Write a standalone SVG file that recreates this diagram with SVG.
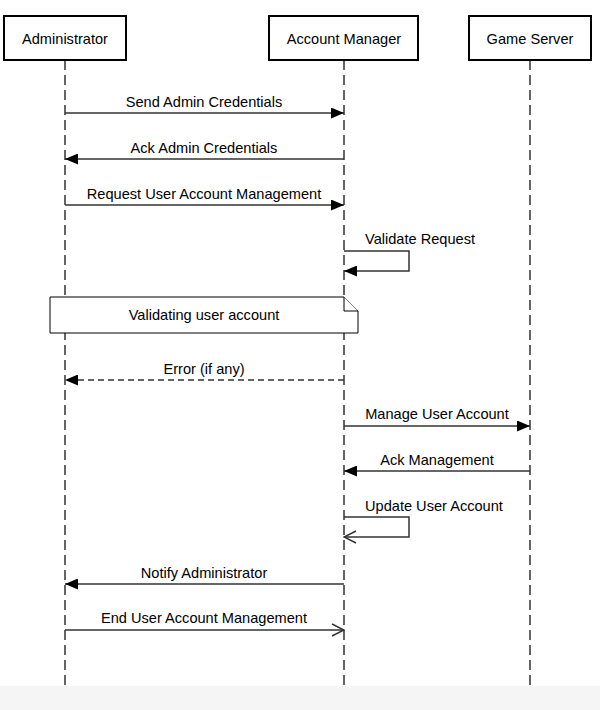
<svg xmlns="http://www.w3.org/2000/svg" width="600" height="710" viewBox="0 0 600 710">
<defs>
<style>
text{font-family:"Liberation Sans",Arial,sans-serif;font-size:14.6px;fill:#000}
.actor{fill:#fff;stroke:#000;stroke-width:2}
.life{stroke:#333;stroke-width:1.5;stroke-dasharray:10,5;fill:none}
.msg{stroke:#333;stroke-width:1.5;fill:none}
.dash{stroke-dasharray:6,4}
.note{fill:#fff;stroke:#000;stroke-width:1}
.mid{text-anchor:middle}
</style>
<marker id="filled" viewBox="0 0 13 11" refX="13" refY="5.5" markerWidth="13" markerHeight="11" markerUnits="userSpaceOnUse" orient="auto">
<path d="M0,0 L13,5.5 L0,11 Z" fill="#000"/>
</marker>
<marker id="open" viewBox="0 0 14 14" refX="13" refY="7" markerWidth="14" markerHeight="14" markerUnits="userSpaceOnUse" orient="auto">
<path d="M1,1 L13,7 L1,13" fill="none" stroke="#333" stroke-width="1.5"/>
</marker>
</defs>
<rect x="0" y="0" width="600" height="686" fill="#fff"/>
<rect x="0" y="686" width="600" height="24" fill="#f5f5f5"/>
<g id="lifelines">
<line class="life" x1="65" y1="60" x2="65" y2="686"/>
<line class="life" x1="344" y1="60" x2="344" y2="686"/>
<line class="life" x1="530" y1="60" x2="530" y2="686"/>
</g>
<g id="administrator">
<rect class="actor" x="4" y="16" width="122" height="44"/>
<text class="mid" x="65" y="44">Administrator</text>
</g>
<g id="account-manager">
<rect class="actor" x="269" y="16" width="149" height="44"/>
<text class="mid" x="344" y="44">Account Manager</text>
</g>
<g id="game-server">
<rect class="actor" x="469" y="16" width="122" height="44"/>
<text class="mid" x="530" y="44">Game Server</text>
</g>
<g id="note-validating">
<path class="note" d="M50,297 H344 L358,311 V333 H50 Z"/>
<path class="note" d="M344,297 V311 H358" fill="none"/>
<text class="mid" x="204" y="320">Validating user account</text>
</g>
<g id="connectors">
<line class="msg" x1="65" y1="113" x2="344" y2="113" marker-end="url(#filled)"/>
<text class="mid" x="204" y="107">Send Admin Credentials</text>
<line class="msg" x1="344" y1="159" x2="65" y2="159" marker-end="url(#filled)"/>
<text class="mid" x="204" y="153">Ack Admin Credentials</text>
<line class="msg" x1="65" y1="205" x2="344" y2="205" marker-end="url(#filled)"/>
<text class="mid" x="204" y="199">Request User Account Management</text>
<path class="msg" d="M344,251 H409 V271 H344" marker-end="url(#filled)"/>
<text x="365" y="244">Validate Request</text>
<line class="msg dash" x1="344" y1="380" x2="65" y2="380" marker-end="url(#filled)"/>
<text class="mid" x="204" y="374">Error (if any)</text>
<line class="msg" x1="344" y1="426" x2="530" y2="426" marker-end="url(#filled)"/>
<text class="mid" x="437" y="419">Manage User Account</text>
<line class="msg" x1="530" y1="471" x2="344" y2="471" marker-end="url(#filled)"/>
<text class="mid" x="437" y="465">Ack Management</text>
<path class="msg" d="M344,517 H409 V537 H344" marker-end="url(#open)"/>
<text x="365" y="511">Update User Account</text>
<line class="msg" x1="344" y1="584" x2="65" y2="584" marker-end="url(#filled)"/>
<text class="mid" x="204" y="578">Notify Administrator</text>
<line class="msg" x1="65" y1="630" x2="344" y2="630" marker-end="url(#open)"/>
<text class="mid" x="204" y="623">End User Account Management</text>
</g>
</svg>
